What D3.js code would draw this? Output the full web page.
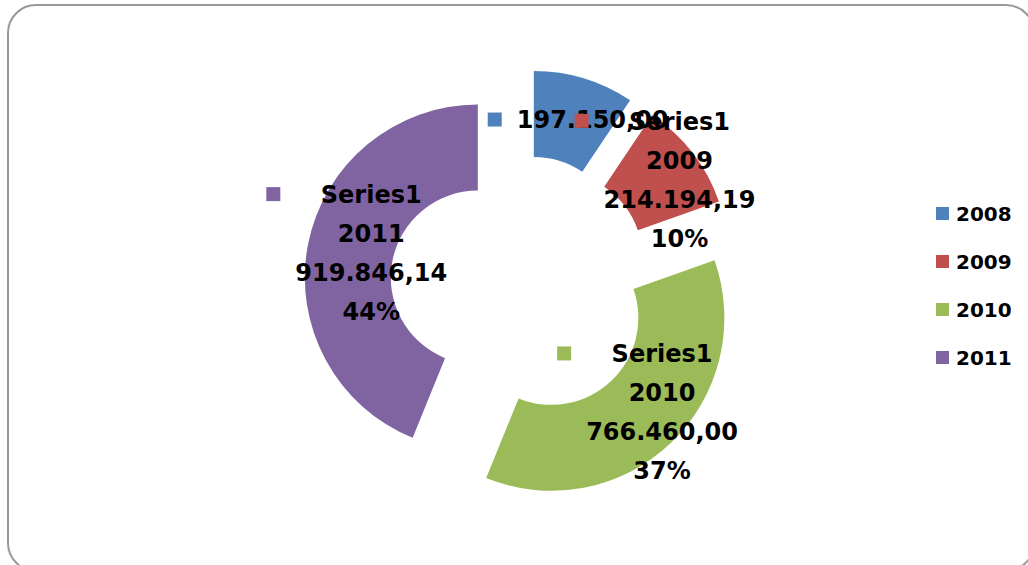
<!DOCTYPE html>
<meta charset="utf-8">
<script src="https://d3js.org/d3.v7.min.js"></script>
<style>
body { margin: 0; background: #fff; }
text { font-family: "DejaVu Sans", sans-serif; font-weight: bold; fill: #000; }
.frame { fill: #fff; stroke: #999; stroke-width: 2; }
.label { font-size: 24px; }
.legend text { font-size: 20px; }
</style>
<body></body>
<script>

// DATA
const years = ["2008", "2009", "2010", "2011"];
const values = [197150.00, 214194.19, 766460.00, 919846.14];
const seriesName = "Series1";
const colors = ["#4F81BD", "#C0504D", "#9BBB59", "#8064A2"];
// which parts of the data label are visible for each slice
const labelParts = [
  ["value"],
  ["series", "category", "value", "percent"],
  ["series", "category", "value", "percent"],
  ["series", "category", "value", "percent"]
];

const width = 1028, height = 565;
const cx = 521, cy = 286;
const outerR = 173, innerR = 87;
const explode = 44;
const lineHeight = 39;

const locale = d3.formatLocale({decimal: ",", thousands: ".", grouping: [3], currency: ["", ""]});
const fmtValue = locale.format(",.2f");
const fmtPct = d3.format(".0%");
const total = d3.sum(values);

const svg = d3.select("body").append("svg")
    .attr("width", width)
    .attr("height", height);

svg.append("rect")
    .classed("frame", true)
    .attr("x", 8).attr("y", 5)
    .attr("width", 1026).attr("height", 566)
    .attr("rx", 28).attr("ry", 28);

const pie = d3.pie().sort(null).value(d => d.value);
const arc = d3.arc().innerRadius(innerR).outerRadius(outerR);

const data = years.map((y, i) => ({year: y, value: values[i], color: colors[i], parts: labelParts[i]}));
const arcs = pie(data);

function offset(d) {
  const a = (d.startAngle + d.endAngle) / 2;
  return [Math.sin(a) * explode, -Math.cos(a) * explode];
}

// SLICES
svg.append("g")
    .attr("transform", `translate(${cx},${cy})`)
  .selectAll("path")
  .data(arcs)
  .join("path")
    .attr("fill", d => d.data.color)
    .attr("transform", d => `translate(${offset(d)})`)
    .attr("d", arc);

// DATA LABELS
const labels = svg.append("g").attr("transform", `translate(${cx},${cy})`);
arcs.forEach(d => {
  const [ox, oy] = offset(d);
  const [mx, my] = arc.centroid(d);
  const tx = ox + mx + 21, ty = oy + my;
  const lines = d.data.parts.map(p =>
      p === "series" ? seriesName
    : p === "category" ? d.data.year
    : p === "value" ? fmtValue(d.data.value)
    : fmtPct(d.data.value / total));
  const g = labels.append("g");
  const top = ty - (lines.length - 1) * lineHeight / 2;
  let maxW = 0;
  lines.forEach((t, i) => {
    const el = g.append("text")
        .classed("label", true)
        .attr("x", tx)
        .attr("y", top + i * lineHeight)
        .attr("dy", "0.36em")
        .attr("text-anchor", "middle")
        .text(t);
    maxW = Math.max(maxW, el.node().getComputedTextLength());
  });
  g.insert("rect", "text")
      .attr("x", tx - maxW / 2 - 29)
      .attr("y", top - 7)
      .attr("width", 14).attr("height", 14)
      .attr("fill", d.data.color);
});

// LEGEND
const legend = svg.append("g").classed("legend", true)
    .attr("transform", "translate(936,214)");
const item = legend.selectAll("g")
  .data(data)
  .join("g")
    .attr("transform", (d, i) => `translate(0,${i * 48})`);
item.append("rect")
    .attr("x", 0).attr("y", -7)
    .attr("width", 13).attr("height", 13)
    .attr("fill", d => d.color);
item.append("text")
    .attr("x", 20)
    .attr("dy", "0.36em")
    .text(d => d.year);

</script>
